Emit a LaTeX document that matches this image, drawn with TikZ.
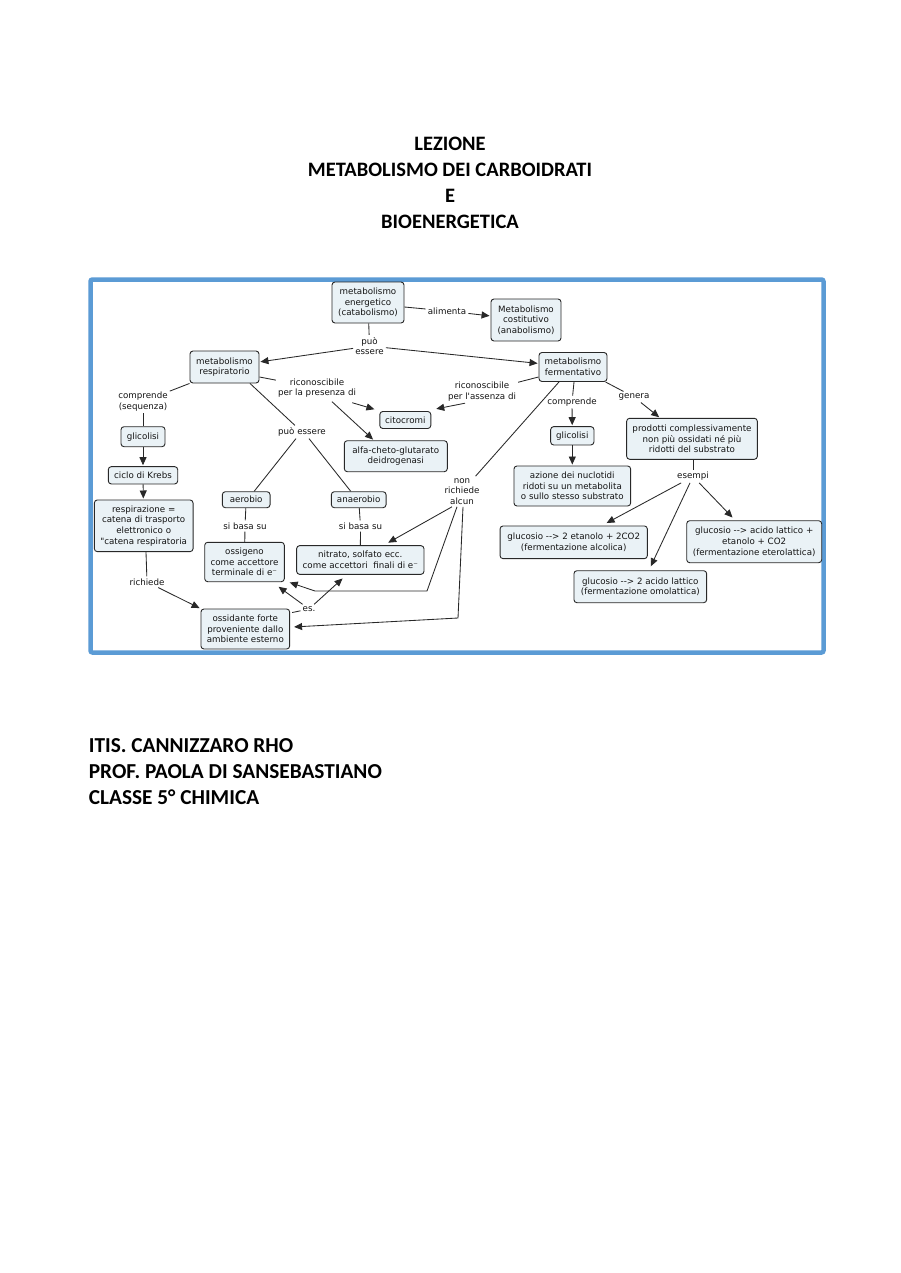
\documentclass[tikz,border=0pt]{standalone}
\usepackage{fontspec}
\usetikzlibrary{arrows.meta}
\newfontfamily\dvfont{DejaVu Sans}
\newfontfamily\calfont{Carlito}
\definecolor{frameblue}{RGB}{91,155,213}
\definecolor{boxfill}{RGB}{234,242,246}
\definecolor{ink}{RGB}{40,40,40}
\definecolor{txt}{RGB}{20,20,20}
\begin{document}
\begin{tikzpicture}[x=1pt,y=-1pt,
  box/.style={draw=ink, fill=boxfill, rounded corners=3pt, line width=0.9pt, align=center, inner sep=0pt, font=\dvfont\fontsize{8.7}{10.6}\selectfont, text=txt},
  sz/.style 2 args={minimum width=#1pt, minimum height=#2pt},
  lbl/.style={align=center, inner sep=2pt, font=\dvfont\fontsize{8.7}{10.6}\selectfont, text=txt},
  con/.style={draw=ink, line width=0.85pt},
  arr/.style={con, -{Triangle[length=8pt,width=7pt]}, shorten >=1pt},
  ttl/.style={font=\calfont\bfseries\fontsize{20.5}{26}\selectfont, inner sep=0pt, text=black},
  foot/.style={font=\calfont\bfseries\fontsize{21.3}{26}\selectfont, inner sep=0pt, text=black}
]
\fill[white] (0,0) rectangle (900,1273);
\useasboundingbox (0,0) rectangle (900,1273);

% titles
\node[ttl, anchor=base] (t1) at (450,150.7) {LEZIONE};
\node[ttl, anchor=base] (t2) at (450,177) {METABOLISMO DEI CARBOIDRATI};
\node[ttl, anchor=base] (t3) at (450,203) {E};
\node[ttl, anchor=base] (t4) at (450,229) {BIOENERGETICA};

\node[foot, anchor=base west] (f1) at (88.7,752) {ITIS. CANNIZZARO RHO};
\node[foot, anchor=base west] (f2) at (88.7,778) {PROF. PAOLA DI SANSEBASTIANO};
\node[foot, anchor=base west] (f3) at (88.7,804) {CLASSE 5° CHIMICA};

% frame
\draw[frameblue, line width=4.5pt, rounded corners=2pt] (90.5,279.5) rectangle (823.5,652.5);

% boxes
\node[box, sz={72}{41}] (energ) at (368,302.5) {metabolismo\\energetico\\(catabolismo)};
\node[box, sz={70}{42}] (costit) at (526,320) {Metabolismo\\costitutivo\\(anabolismo)};
\node[box, sz={69}{32}] (resp) at (224.5,367) {metabolismo\\respiratorio};
\node[box, sz={68}{29}] (ferm) at (573,367) {metabolismo\\fermentativo};
\node[box, sz={51}{17}] (citoc) at (405.3,420) {citocromi};
\node[box, sz={103}{31}] (alfa) at (395.8,456.2) {alfa-cheto-glutarato\\deidrogenasi};
\node[box, sz={44}{20}] (glic1) at (143,436.7) {glicolisi};
\node[box, sz={69.4}{17.3}] (krebs) at (143,475.3) {ciclo di Krebs};
\node[box, sz={98.7}{51.7}] (respir) at (143.7,525.8) {respirazione =\\catena di trasporto\\elettronico o\\"catena respiratoria};
\node[box, sz={88.7}{40}] (ossid) at (245.3,629) {ossidante forte\\proveniente dallo\\ambiente esterno};
\node[box, sz={47.7}{16}] (aerob) at (246.2,499.7) {aerobio};
\node[box, sz={54.7}{16}] (anaerob) at (358.7,499.7) {anaerobio};
\node[box, sz={79.6}{39.4}] (ossig) at (244.5,562) {ossigeno\\come accettore\\terminale di e⁻};
\node[box, sz={127.3}{28.7}] (nitr) at (360.3,560) {nitrato, solfato ecc.\\come accettori\ \ finali di e⁻};
\node[box, sz={43.3}{18.3}] (glic2) at (572.3,435.8) {glicolisi};
\node[box, sz={116.7}{40}] (azione) at (572.3,486) {azione dei nuclotidi\\ridoti su un metabolita\\o sullo stesso substrato};
\node[box, sz={130.7}{41}] (prod) at (692,438.8) {prodotti complessivamente\\non più ossidati né più\\ridotti del substrato};
\node[box, sz={147.3}{32.7}] (alcol) at (573.7,542.3) {glucosio -{}-> 2 etanolo + 2CO2\\(fermentazione alcolica)};
\node[box, sz={132.7}{32}] (omol) at (640.3,586.7) {glucosio -{}-> 2 acido lattico\\(fermentazione omolattica)};
\node[box, sz={135}{42}] (eterol) at (754.2,541.7) {glucosio -{}-> acido lattico +\\etanolo + CO2\\(fermentazione eterolattica)};

% labels
\node[lbl] (alim) at (447,311) {alimenta};
\node[lbl] (puo1) at (369.5,346) {può\\essere};
\node[lbl] (ricpres) at (317,388) {riconoscibile\\per la presenza di};
\node[lbl] (ricass) at (482,391.5) {riconoscibile\\per l'assenza di};
\node[lbl] (compseq) at (143,401.5) {comprende\\(sequenza)};
\node[lbl] (puo2) at (302,432) {può essere};
\node[lbl] (sib1) at (245,526) {si basa su};
\node[lbl] (sib2) at (360.5,526) {si basa su};
\node[lbl] (rich) at (147,582) {richiede};
\node[lbl] (es) at (309,609) {es.};
\node[lbl] (nonr) at (462,491.5) {non\\richiede\\alcun};
\node[lbl] (compr) at (572,402) {comprende};
\node[lbl] (gen) at (634,397) {genera};
\node[lbl] (esem) at (693,476.5) {esempi};

\coordinate (c1) at (427,591);
\coordinate (c2) at (315,591);
\coordinate (c3) at (458,618);

% connectors
\draw[con] ([yshift=-4.5pt]energ.east) -- (alim);
\draw[arr] (alim) -- (costit);
\draw[con] (energ) -- (puo1);
\draw[arr] (puo1) -- (resp);
\draw[arr] (puo1) -- (ferm);
\draw[con] ([yshift=-10pt]resp.east) -- (ricpres);
\draw[arr] ([xshift=-6pt,yshift=-3pt]ricpres.south east) -- ([xshift=-4pt,yshift=1.5pt]citoc.north west);
\draw[arr] ([xshift=15pt,yshift=-2pt]ricpres.south) -- ([xshift=-22pt]alfa.north);
\draw[con] ([yshift=-10pt]ferm.west) -- (ricass);
\draw[arr] ([xshift=-17pt]ricass.south) -- ([xshift=4pt,yshift=2pt]citoc.north east);
\draw[con] (resp.south west) -- (compseq);
\draw[con] (compseq) -- (glic1);
\draw[arr] (glic1) -- (krebs);
\draw[arr] (krebs) -- (respir);
\draw[con] ([xshift=2.3pt]respir.south) -- (rich);
\draw[arr] (rich) -- (ossid.north west);
\draw[con] ([xshift=25.5pt]resp.south) -- (puo2);
\draw[con] ([xshift=-6pt]puo2.south) -- ([xshift=8pt]aerob.north);
\draw[con] ([xshift=7pt]puo2.south) -- ([xshift=-8pt]anaerob.north);
\draw[con] (aerob) -- (sib1);
\draw[con] (sib1) -- (ossig);
\draw[con] (anaerob) -- (sib2);
\draw[con] (sib2) -- (nitr);
\draw[con] ([xshift=-14pt]ferm.south) -- (nonr);
\draw[arr] ([xshift=-10pt]nonr.south) -- ([xshift=27pt,yshift=2pt]nitr.north);
\draw[arr] ([xshift=-5pt]nonr.south) -- (c1) -- (c2) -- ([xshift=4pt]ossig.south east);
\draw[arr] ([xshift=1pt]nonr.south) -- (c3) -- ([xshift=3pt,yshift=2pt]ossid.east);
\draw[con] ([xshift=2pt,yshift=-4pt]ossid.north east) -- (es);
\draw[arr] (es) -- ([xshift=-7pt,yshift=-4pt]ossig.south east);
\draw[arr] (es) -- ([xshift=-17pt,yshift=-3pt]nitr.south);
\draw[con] ([xshift=1pt]ferm.south) -- (compr);
\draw[arr] (compr) -- (glic2);
\draw[arr] (glic2) -- (azione);
\draw[con] ([xshift=-2pt]ferm.south east) -- (gen);
\draw[arr] (gen) -- ([xshift=-32pt]prod.north);
\draw[con] ([xshift=1pt]prod.south) -- (esem);
\draw[arr] (esem) -- ([xshift=32pt,yshift=2pt]alcol.north);
\draw[arr] (esem) -- ([xshift=10pt,yshift=3pt]omol.north);
\draw[arr] (esem) -- ([xshift=-21pt,yshift=2pt]eterol.north);
\end{tikzpicture}
\end{document}
